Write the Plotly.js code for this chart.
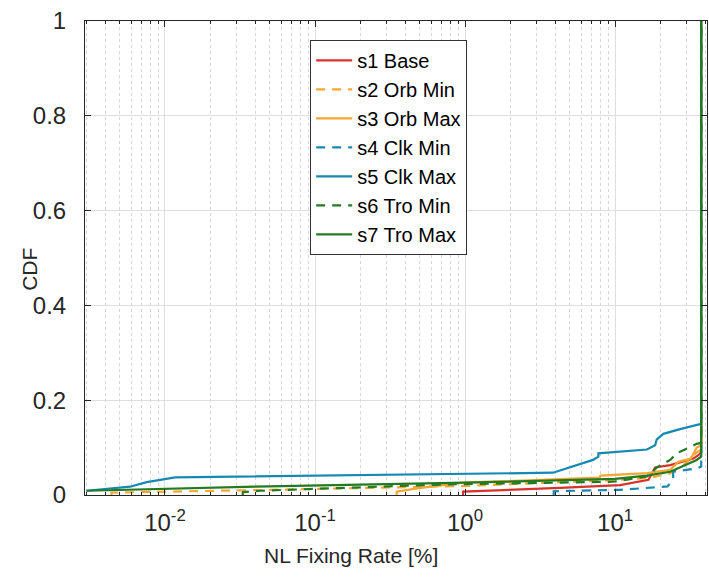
<!DOCTYPE html>
<html>
<head>
<meta charset="utf-8">
<script src="https://cdn.plot.ly/plotly-3.0.1.min.js"></script>
<style>html,body{margin:0;padding:0;background:#fff;}#chart{width:709px;height:585px;}</style>
</head>
<body>
<div id="chart"></div>
<script>
// Series names
const seriesNames = ['s1 Base', 's2 Orb Min', 's3 Orb Max', 's4 Clk Min', 's5 Clk Max', 's6 Tro Min', 's7 Tro Max'];

// NL fixing rate [%] (x) and CDF (y) for each series
const s1X = [0.97, 0.97, 4.3, 10.8, 16.7, 18.5, 23.3, 33.3, 35.9, 37.5, 37.5];
const s1Y = [0, 0.007, 0.015, 0.021, 0.032, 0.058, 0.063, 0.077, 0.084, 0.09, 1];

const s2X = [0.0044, 0.0044, 0.043, 1.0, 10.8, 16.7, 23.0, 28.0, 35.0, 37.5, 37.5];
const s2Y = [0, 0.005, 0.0105, 0.019, 0.032, 0.036, 0.045, 0.06, 0.09, 0.095, 1];

const s3X = [0.35, 0.35, 0.477, 0.97, 7.9, 8.0, 16.3, 23.3, 26.4, 32.0, 35.0, 37.5, 37.5];
const s3Y = [0, 0.007, 0.014, 0.026, 0.0365, 0.041, 0.046, 0.053, 0.070, 0.077, 0.10, 0.105, 1];

const s4X = [3.9, 3.9, 10.8, 22.4, 24.4, 24.4, 35.0, 37.5, 37.5];
const s4Y = [0, 0.008, 0.011, 0.018, 0.035, 0.049, 0.056, 0.06, 1];

const s5X = [0.003, 0.00585, 0.00755, 0.0117, 3.86, 7.13, 7.74, 7.74, 16.3, 18.5, 18.97, 21.0, 27.1, 35.9, 37.5, 37.5];
const s5Y = [0.009, 0.0175, 0.027, 0.037, 0.047, 0.074, 0.081, 0.088, 0.096, 0.105, 0.1175, 0.129, 0.139, 0.148, 0.15, 1];

const s6X = [0.033, 0.033, 0.043, 0.284, 0.79, 9.7, 16.3, 19.0, 23.3, 25.8, 32.0, 35.0, 37.5, 37.5];
const s6Y = [0, 0.006, 0.009, 0.0175, 0.0226, 0.028, 0.039, 0.058, 0.074, 0.088, 0.103, 0.108, 0.11, 1];

const s7X = [0.003, 0.04, 1.0, 10.0, 16.3, 23.3, 27.0, 35.0, 37.5, 37.5];
const s7Y = [0.009, 0.0175, 0.026, 0.034, 0.041, 0.049, 0.058, 0.074, 0.081, 1];

const seriesX = [s1X, s2X, s3X, s4X, s5X, s6X, s7X];
const seriesY = [s1Y, s2Y, s3Y, s4Y, s5Y, s6Y, s7Y];
const seriesColors = ['#D7322C', '#F7A633', '#F7A633', '#1589B3', '#1589B3', '#237A23', '#237A23'];
const seriesDash = ['solid', 'dash', 'solid', 'dash', 'solid', 'dash', 'solid'];

// Axis ticks and titles
const xTickVals = [0.01, 0.1, 1, 10];
const xTickText = ['10<sup>-2</sup>', '10<sup>-1</sup>', '10<sup>0</sup>', '10<sup>1</sup>'];
const xMinorVals = [0.003, 0.004, 0.005, 0.006, 0.007, 0.008, 0.009,
  0.02, 0.03, 0.04, 0.05, 0.06, 0.07, 0.08, 0.09,
  0.2, 0.3, 0.4, 0.5, 0.6, 0.7, 0.8, 0.9,
  2, 3, 4, 5, 6, 7, 8, 9, 20, 30, 40];
const yTickVals = [0, 0.2, 0.4, 0.6, 0.8, 1];
const yTickText = ['0', '0.2', '0.4', '0.6', '0.8', '1'];
const xTitle = 'NL Fixing Rate [%]';
const yTitle = 'CDF';

const traces = seriesNames.map((name, i) => ({
  type: 'scatter',
  mode: 'lines',
  name: name,
  x: seriesX[i],
  y: seriesY[i],
  line: {color: seriesColors[i], width: 2.2, dash: seriesDash[i] === 'dash' ? '9px,7px' : 'solid'}
}));

const axisColor = '#262626';
const layout = {
  width: 709,
  height: 585,
  margin: {l: 85, r: 2, t: 21, b: 90, pad: 0},
  paper_bgcolor: '#ffffff',
  plot_bgcolor: '#ffffff',
  font: {family: 'Liberation Sans, Arial, sans-serif', size: 20, color: axisColor},
  showlegend: true,
  legend: {
    x: 0.362, y: 0.96, xanchor: 'left', yanchor: 'top',
    bgcolor: '#ffffff', bordercolor: '#333333', borderwidth: 1,
    font: {size: 20, color: '#000000'},
    itemwidth: 36,
    tracegroupgap: 0
  },
  xaxis: {
    type: 'log',
    range: [Math.log10(0.00293), Math.log10(41)],
    tickmode: 'array', tickvals: xTickVals, ticktext: xTickText,
    ticks: 'inside', ticklen: 6, tickcolor: axisColor, tickwidth: 1,
    showline: true, linecolor: axisColor, linewidth: 1, mirror: 'ticks',
    showgrid: true, gridcolor: '#dedede', gridwidth: 1,
    zeroline: false,
    tickfont: {size: 24, color: axisColor},
    ticklabelstandoff: 6,
    minor: {tickmode: 'array', tickvals: xMinorVals, ticks: 'inside', ticklen: 3, tickcolor: axisColor,
            showgrid: true, gridcolor: '#d6d6d6', griddash: 'dot', gridwidth: 1},
    automargin: false
  },
  yaxis: {
    range: [0, 1],
    tickmode: 'array', tickvals: yTickVals, ticktext: yTickText,
    ticks: 'inside', ticklen: 6, tickcolor: axisColor, tickwidth: 1,
    showline: true, linecolor: axisColor, linewidth: 1, mirror: 'ticks',
    showgrid: true, gridcolor: '#dedede', gridwidth: 1,
    zeroline: false,
    tickfont: {size: 24, color: axisColor},
    ticklabelstandoff: 13,
    automargin: false
  },
  annotations: [
    {text: xTitle, xref: 'paper', yref: 'paper', x: 0.4277, y: -0.127, xanchor: 'center', yanchor: 'middle',
     showarrow: false, font: {size: 21, color: axisColor}},
    {text: yTitle, xref: 'paper', yref: 'paper', x: -0.0885, y: 0.477, xanchor: 'center', yanchor: 'middle',
     textangle: -90, showarrow: false, font: {size: 21, color: axisColor}}
  ]
};

Plotly.newPlot('chart', traces, layout, {displayModeBar: false, staticPlot: true});
</script>
</body>
</html>
